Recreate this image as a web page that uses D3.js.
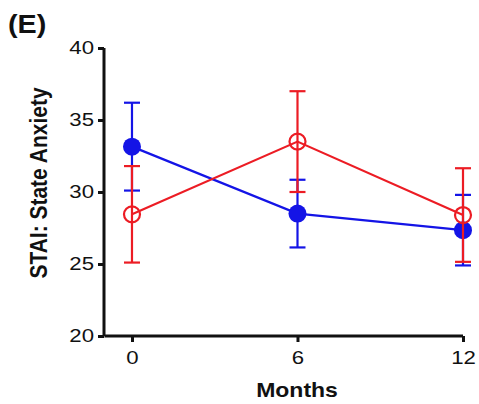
<!DOCTYPE html>
<html>
<head>
<meta charset="utf-8">
<script src="https://cdn.jsdelivr.net/npm/d3@7"></script>
<style>
  html, body { margin: 0; padding: 0; background: #fff; }
  svg { display: block; font-family: Arial, "Liberation Sans", sans-serif; }
</style>
</head>
<body>
<script>
// STAI state anxiety by follow-up month, two groups (mean ± error)
const months = [0, 6, 12];
const xTicks = [0, 6, 12];
const yTicks = [20, 25, 30, 35, 40];

const blueMean = [33.15, 28.5, 27.35];
const blueErr  = [3.05, 2.35, 2.45];
const redMean  = [28.45, 33.5, 28.4];
const redErr   = [3.35, 3.5, 3.25];

const W = 479, H = 404;
const SX = 1.2; // the figure's lettering is set slightly wide
const svg = d3.select("body").append("svg").attr("width", W).attr("height", H);

const x = d3.scaleLinear().domain([-1, 12]).range([104.4, 463]);
const y = d3.scaleLinear().domain([20, 40]).range([336, 48]);

// axes
const yAxis = svg.append("g").attr("transform", "translate(104,0)")
  .call(d3.axisLeft(y).tickValues(yTicks).tickSize(6).tickPadding(3));
const xAxis = svg.append("g").attr("transform", "translate(0,336)")
  .call(d3.axisBottom(x).tickValues(xTicks).tickSize(6).tickPadding(9));

[yAxis, xAxis].forEach(g => {
  g.select(".domain").attr("stroke", "#111").attr("stroke-width", 3);
  g.selectAll(".tick line").attr("stroke", "#111").attr("stroke-width", 3);
  g.selectAll(".tick text").attr("fill", "#111")
    .style("font-size", "18.5px").style("font-family", "Arial, 'Liberation Sans', sans-serif");
});
xAxis.select(".domain").attr("d", `M${x(-1)},0H${x(12)}`);
yAxis.select(".domain").attr("d", `M0,${y(40)}V${y(20)}`);

// widen tick labels horizontally, keeping their anchor points
yAxis.selectAll(".tick text").attr("x", -10 / SX).attr("transform", `scale(${SX},1)`);
xAxis.selectAll(".tick text").attr("transform", `scale(${SX},1)`);

function drawSeries(mean, err, color, filled) {
  const g = svg.append("g");
  const pts = months.map((m, i) => ({ m, v: mean[i], e: err[i] }));
  g.append("path")
    .datum(pts)
    .attr("fill", "none").attr("stroke", color).attr("stroke-width", 2.2)
    .attr("d", d3.line().x(d => x(d.m)).y(d => y(d.v)));
  const cap = 8;
  pts.forEach(d => {
    g.append("line")
      .attr("x1", x(d.m)).attr("x2", x(d.m))
      .attr("y1", y(d.v + d.e)).attr("y2", y(d.v - d.e))
      .attr("stroke", color).attr("stroke-width", 2.2);
    [d.v + d.e, d.v - d.e].forEach(v => {
      g.append("line")
        .attr("x1", x(d.m) - cap).attr("x2", x(d.m) + cap)
        .attr("y1", y(v)).attr("y2", y(v))
        .attr("stroke", color).attr("stroke-width", 2.2);
    });
  });
  g.selectAll("circle").data(pts).join("circle")
    .attr("cx", d => x(d.m)).attr("cy", d => y(d.v))
    .attr("r", filled ? 9 : 8)
    .attr("fill", filled ? color : "none")
    .attr("stroke", color).attr("stroke-width", filled ? 0 : 2.2);
}

drawSeries(blueMean, blueErr, "#1414e6", true);
drawSeries(redMean, redErr, "#ec1c24", false);

// labels
svg.append("text")
  .attr("transform", `translate(297,397) scale(1.15,1)`)
  .attr("text-anchor", "middle")
  .style("font-size", "20px").style("font-weight", "bold").attr("fill", "#111")
  .text("Months");
svg.append("text")
  .attr("transform", `translate(47,183) scale(1.12,1) rotate(-90)`)
  .attr("text-anchor", "middle")
  .style("font-size", "21px").style("font-weight", "bold").attr("fill", "#111")
  .text("STAI: State Anxiety");
svg.append("text")
  .attr("transform", "translate(8,33) scale(1.15,1)")
  .style("font-size", "25px").style("font-weight", "bold").attr("fill", "#111")
  .text("(E)");
</script>
</body>
</html>
